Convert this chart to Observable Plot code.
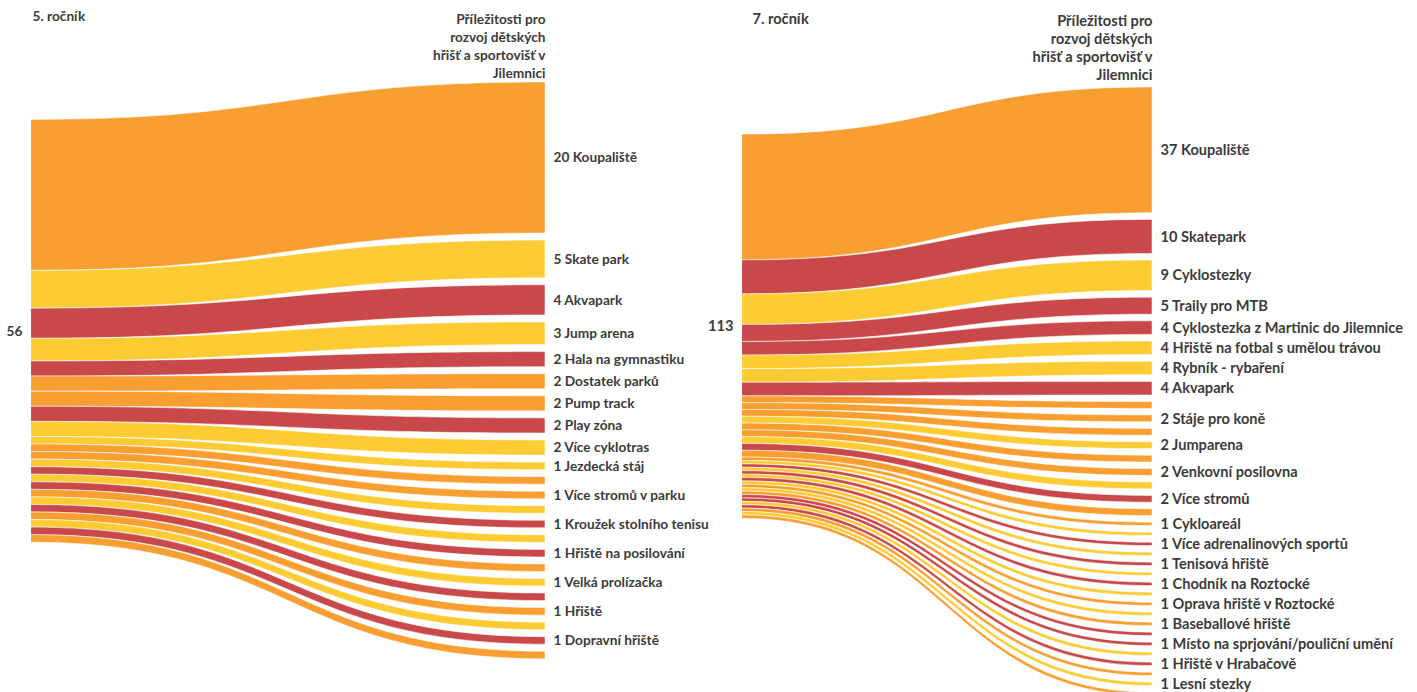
<!DOCTYPE html>
<html>
<head>
<meta charset="utf-8">
<script src="https://cdn.jsdelivr.net/npm/d3@7"></script>
<script src="https://cdn.jsdelivr.net/npm/@observablehq/plot@0.6"></script>
<style>
  html, body { margin: 0; padding: 0; background: #fff; overflow: hidden; }
  #wrap { display: flex; flex-direction: row; width: 1417px; height: 692px; overflow: hidden; }
  #wrap svg { overflow: visible; }
</style>
</head>
<body>
<div id="wrap"></div>
<script>
// ---------- DATA ----------
const header = "Příležitosti pro\nrozvoj dětských\nhřišť a sportovišť v\nJilemnici";

const g5Title = "5. ročník";
const g5Values = [20, 5, 4, 3, 2, 2, 2, 2, 2, 1, 1, 1, 1, 1, 1, 1, 1, 1, 1, 1, 1, 1, 1];
const g5Names = ["Koupaliště", "Skate park", "Akvapark", "Jump arena", "Hala na gymnastiku",
  "Dostatek parků", "Pump track", "Play zóna", "Více cyklotras", "Jezdecká stáj", null,
  "Více stromů v parku", null, "Kroužek stolního tenisu", null, "Hřiště na posilování", null,
  "Velká prolízačka", null, "Hřiště", null, "Dopravní hřiště", null];
const g5Colors = ["o", "y", "r", "y", "r", "o", "o", "r", "y", "y", "o", "o", "y", "r", "y", "r",
  "o", "y", "r", "o", "y", "r", "o"];

const g7Title = "7. ročník";
const g7Values = [37, 10, 9, 5, 4, 4, 4, 4,
  2, 2, 2, 2, 2, 2, 2, 2, 2,
  1, 1, 1, 1, 1, 1, 1, 1, 1, 1, 1, 1, 1, 1, 1, 1, 1, 1];
const g7Names = ["Koupaliště", "Skatepark", "Cyklostezky", "Traily pro MTB",
  "Cyklostezka z Martinic do Jilemnice", "Hřiště na fotbal s umělou trávou", "Rybník - rybaření", "Akvapark",
  null, "Stáje pro koně", null, "Jumparena", null, "Venkovní posilovna", null, "Více stromů", null,
  "Cykloareál", null, "Více adrenalinových sportů", null, "Tenisová hřiště", null, "Chodník na Roztocké", null,
  "Oprava hřiště v Roztocké", null, "Baseballové hřiště", null, "Místo na sprjování/pouliční umění", null,
  "Hřiště v Hrabačově", null, "Lesní stezky", null];
const g7Colors = ["o", "r", "y", "r", "r", "y", "y", "r",
  "o", "o", "o", "y", "o", "o", "y", "r", "o",
  "o", "y", "r", "y", "r", "y", "r", "y", "o", "y", "o", "r", "r", "y", "r", "o", "y", "o"];

const colorKeys = ["o", "y", "r"];
const colorHex = ["#F99E31", "#FDCC35", "#C9494B"];

// ---------- LAYOUT (value units) ----------
function layout(values, pad) {
  let y = 0;
  const targets = values.map(v => { const t = {y0: y, y1: y + v}; y += v + pad; return t; });
  const T = y - pad;
  const sum = d3.sum(values);
  const center = d3.sum(targets, (t, i) => values[i] * (t.y0 + t.y1) / 2) / sum;
  let s = center - sum / 2;
  const sources = values.map(v => { const r = {y0: s, y1: s + v}; s += v; return r; });
  return {targets, sources, T, sum, center};
}

function panel(cfg) {
  const L = layout(cfg.values, cfg.pad);
  const pts = [];
  cfg.values.forEach((v, i) => {
    pts.push({id: i, x: 0, y1: L.sources[i].y0, y2: L.sources[i].y1, c: cfg.colors[i]});
    pts.push({id: i, x: 1, y1: L.targets[i].y0, y2: L.targets[i].y1, c: cfg.colors[i]});
  });
  const labels = cfg.values.map((v, i) => ({x: 1, y: (L.targets[i].y0 + L.targets[i].y1) / 2,
    t: cfg.names[i] ? `${v} ${cfg.names[i]}` : null})).filter(d => d.t);
  const txt = "#3b3b3b";
  return Plot.plot({
    width: cfg.width,
    height: 692,
    marginTop: 0, marginBottom: 0, marginLeft: 0, marginRight: 0,
    x: {domain: [0, 1], range: cfg.xRange, axis: null},
    y: {domain: [0, L.T], range: [cfg.top, cfg.top + L.T * cfg.k], axis: null},
    color: {domain: colorKeys, range: colorHex},
    style: {fontFamily: "Lato, 'Open Sans', sans-serif", background: "transparent", overflow: "visible"},
    marks: [
      Plot.areaY(pts, {x: "x", y1: "y1", y2: "y2", z: "id", fill: "c", curve: "bump-x",
        stroke: "white", strokeWidth: 0.6, strokeOpacity: 0.9}),
      Plot.text(labels, {x: "x", y: "y", text: "t", dx: 8, textAnchor: "start",
        fontSize: cfg.fs, fontWeight: 700, fill: txt}),
      Plot.text([{x: 0, y: L.center, t: String(L.sum)}], {x: "x", y: "y", text: "t", dx: -9,
        textAnchor: "end", fontSize: cfg.fs, fontWeight: 700, fill: txt}),
      Plot.text([{x: 0, t: cfg.title}], {x: "x", text: "t", frameAnchor: "top", textAnchor: "start",
        lineAnchor: "top", dy: cfg.headDy, dx: cfg.titleDx, fontSize: cfg.fs, fontWeight: 700, fill: txt}),
      Plot.text([{x: 1, t: header}], {x: "x", text: "t", frameAnchor: "top", textAnchor: "end",
        lineAnchor: "top", dy: cfg.headDy, lineHeight: 18 / cfg.fs, fontSize: cfg.fs, fontWeight: 700, fill: txt})
    ]
  });
}

const wrap = document.getElementById("wrap");
wrap.appendChild(panel({
  values: g5Values, names: g5Names, colors: g5Colors, title: g5Title,
  width: 700, xRange: [31, 545], top: 82, k: 7.55, pad: 7 / 7.55, headDy: 11, titleDx: 1, fs: 13.7
}));
wrap.appendChild(panel({
  values: g7Values, names: g7Names, colors: g7Colors, title: g7Title,
  width: 717, xRange: [42, 452], top: 87, k: 3.4, pad: 6.6 / 3.4, headDy: 13, titleDx: 10, fs: 14.6
}));
</script>
</body>
</html>
